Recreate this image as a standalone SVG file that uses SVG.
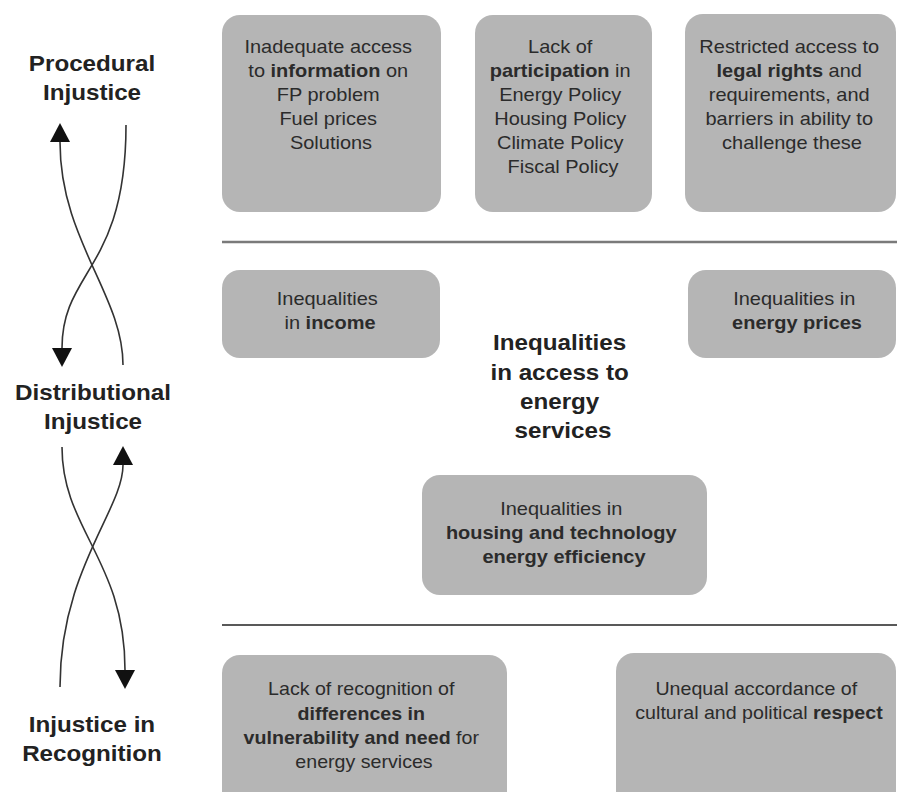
<svg xmlns="http://www.w3.org/2000/svg" width="897" height="792" viewBox="0 0 897 792">
  <style>
    .box { fill: #b5b5b5; }
    .t { font-family: "Liberation Sans", Arial, sans-serif; font-size: 18px; fill: #2b2b2b; text-anchor: middle; }
    .b { font-weight: bold; }
    .lab { font-family: "Liberation Sans", Arial, sans-serif; font-size: 22px; font-weight: bold; fill: #222; text-anchor: middle; }
    .arr { fill: none; stroke: #333; stroke-width: 1.6; marker-end: url(#ah); }
  </style>
  <defs>
    <marker id="ah" viewBox="0 0 19 20" refX="0" refY="10" markerWidth="19" markerHeight="20" markerUnits="userSpaceOnUse" orient="auto">
      <path d="M0,0 L19,10 L0,20 Z" fill="#111"/>
    </marker>
  </defs>
  <rect width="897" height="792" fill="#ffffff"/>

  <!-- Side labels -->
  <g id="procedural">
    <text class="lab" transform="translate(92 0) scale(1.1 1)"><tspan x="0" y="71">Procedural</tspan><tspan x="0" y="100">Injustice</tspan></text>
  </g>
  <g id="distributional">
    <text class="lab" transform="translate(93 0) scale(1.1 1)"><tspan x="0" y="400">Distributional</tspan><tspan x="0" y="429">Injustice</tspan></text>
  </g>
  <g id="recognition">
    <text class="lab" transform="translate(92 0) scale(1.1 1)"><tspan x="0" y="732">Injustice in</tspan><tspan x="0" y="761">Recognition</tspan></text>
  </g>

  <!-- Connectors -->
  <g id="connectors">
    <path class="arr" d="M123,365 C123,295 60,240 60,142"/>
    <path class="arr" d="M126,125 C126,270 62,270 62,348"/>
    <path class="arr" d="M62,447 C62,530 125,560 125,670"/>
    <path class="arr" d="M60,687 C60,570 123,510 123,465"/>
  </g>

  <!-- Dividers -->
  <g id="dividers">
    <line x1="222" y1="242" x2="897" y2="242" stroke="#7a7a7a" stroke-width="2.5"/>
    <line x1="222" y1="625" x2="897" y2="625" stroke="#222" stroke-width="1.5"/>
  </g>

  <!-- Procedural row -->
  <g id="information">
    <rect class="box" x="222" y="15" width="219" height="197" rx="18"/>
    <text class="t" transform="translate(331 0) scale(1.11 1)">
      <tspan x="0" y="53">Inadequate access</tspan>
      <tspan x="0" y="77">to <tspan class="b">information</tspan> on</tspan>
      <tspan x="0" y="101">FP problem</tspan>
      <tspan x="0" y="125">Fuel prices</tspan>
      <tspan x="0" y="149">Solutions</tspan>
    </text>
  </g>
  <g id="participation">
    <rect class="box" x="475" y="15" width="177" height="197" rx="18"/>
    <text class="t" transform="translate(563 0) scale(1.11 1)">
      <tspan x="0" y="53">Lack of</tspan>
      <tspan x="0" y="77"><tspan class="b">participation</tspan> in</tspan>
      <tspan x="0" y="101">Energy Policy</tspan>
      <tspan x="0" y="125">Housing Policy</tspan>
      <tspan x="0" y="149">Climate Policy</tspan>
      <tspan x="0" y="173">Fiscal Policy</tspan>
    </text>
  </g>
  <g id="legal">
    <rect class="box" x="685" y="14" width="211" height="198" rx="18"/>
    <text class="t" transform="translate(792 0) scale(1.11 1)">
      <tspan x="0" y="53">Restricted access to</tspan>
      <tspan x="0" y="77"><tspan class="b">legal rights</tspan> and</tspan>
      <tspan x="0" y="101">requirements, and</tspan>
      <tspan x="0" y="125">barriers in ability to</tspan>
      <tspan x="0" y="149">challenge these</tspan>
    </text>
  </g>

  <!-- Distributional row -->
  <g id="income">
    <rect class="box" x="222" y="270" width="218" height="88" rx="18"/>
    <text class="t" transform="translate(330 0) scale(1.11 1)">
      <tspan x="0" y="305">Inequalities</tspan>
      <tspan x="0" y="329">in <tspan class="b">income</tspan></tspan>
    </text>
  </g>
  <g id="energy-prices">
    <rect class="box" x="688" y="270" width="208" height="88" rx="18"/>
    <text class="t" transform="translate(797 0) scale(1.11 1)">
      <tspan x="0" y="305">Inequalities in</tspan>
      <tspan x="0" y="329" class="b">energy prices</tspan>
    </text>
  </g>
  <g id="access">
    <text class="lab" transform="translate(563 0) scale(1.1 1)">
      <tspan x="0" y="350">Inequalities</tspan>
      <tspan x="0" y="380">in access to</tspan>
      <tspan x="0" y="409">energy</tspan>
      <tspan x="0" y="438">services</tspan>
    </text>
  </g>
  <g id="housing">
    <rect class="box" x="422" y="475" width="285" height="120" rx="18"/>
    <text class="t" transform="translate(564 0) scale(1.11 1)">
      <tspan x="0" y="515">Inequalities in</tspan>
      <tspan x="0" y="539" class="b">housing and technology</tspan>
      <tspan x="0" y="563" class="b">energy efficiency</tspan>
    </text>
  </g>

  <!-- Recognition row -->
  <g id="differences">
    <rect class="box" x="222" y="655" width="285" height="160" rx="18"/>
    <text class="t" transform="translate(364 0) scale(1.09 1)">
      <tspan x="0" y="695">Lack of recognition of</tspan>
      <tspan x="0" y="720" class="b">differences in</tspan>
      <tspan x="0" y="744"><tspan class="b">vulnerability and need</tspan> for</tspan>
      <tspan x="0" y="768">energy services</tspan>
    </text>
  </g>
  <g id="respect">
    <rect class="box" x="616" y="653" width="280" height="160" rx="18"/>
    <text class="t" transform="translate(759 0) scale(1.09 1)">
      <tspan x="0" y="695">Unequal accordance of</tspan>
      <tspan x="0" y="719">cultural and political <tspan class="b">respect</tspan></tspan>
    </text>
  </g>
</svg>
